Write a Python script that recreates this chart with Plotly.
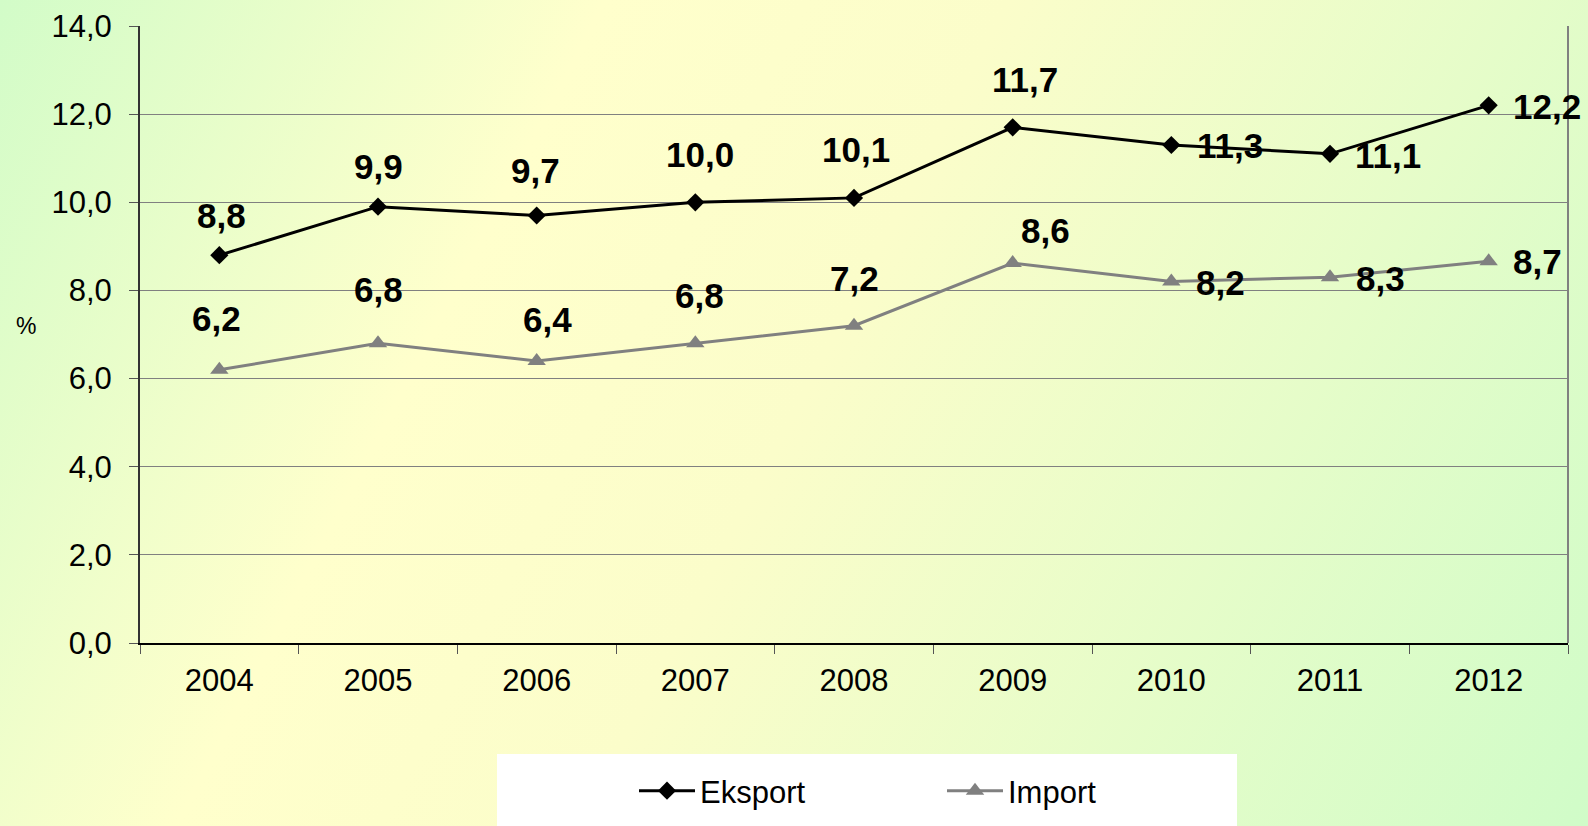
import base64
import plotly.graph_objects as go

years = ["2004", "2005", "2006", "2007", "2008", "2009", "2010", "2011", "2012"]
eksport = [8.8, 9.9, 9.7, 10.0, 10.1, 11.7, 11.3, 11.1, 12.2]
importv = [6.2, 6.8, 6.4, 6.8, 7.2, 8.62, 8.2, 8.3, 8.66]
y_ticks = [0, 2, 4, 6, 8, 10, 12, 14]

# label offsets in pixels (layout only)
eks_off = [(2, 40), (0, 40), (-1, 45), (5, 48), (2, 48), (12, 48), (59, -1), (58, -2), (58, -1)]
imp_off = [(-3, 51), (0, 54), (11, 41), (4, 48), (0, 47), (33, 33), (49, -1), (50, -1), (49, 0)]

W, H = 1588, 826
L, R, T, B = 140, 20, 26, 183
pw, ph = W - L - R, H - T - B

def px(x):
    return (x - L) / pw

def py(y):
    return (H - B - y) / ph

svg = f'''<svg xmlns="http://www.w3.org/2000/svg" width="{W}" height="{H}">
<defs><linearGradient id="g" gradientUnits="userSpaceOnUse" x1="0" y1="0" x2="{W}" y2="{H}">
<stop offset="0" stop-color="#d2fcc8"/>
<stop offset="0.30" stop-color="#ffffcc"/>
<stop offset="0.50" stop-color="#fbfdca"/>
<stop offset="1" stop-color="#d0fcc8"/>
</linearGradient></defs>
<rect width="{W}" height="{H}" fill="url(#g)"/></svg>'''
bg_src = "data:image/svg+xml;base64," + base64.b64encode(svg.encode()).decode()

FONT = "Liberation Sans, Arial, sans-serif"

fig = go.Figure()
fig.add_trace(go.Scatter(
    x=years, y=eksport, name="Eksport", mode="lines+markers",
    line=dict(color="#000000", width=3),
    marker=dict(symbol="diamond", size=14, color="#000000"),
))
fig.add_trace(go.Scatter(
    x=years, y=importv, name="Import", mode="lines+markers",
    line=dict(color="#808080", width=3),
    marker=dict(symbol="triangle-up", size=16, color="#808080"),
))

annotations = []
for series, offs in ((eksport, eks_off), (importv, imp_off)):
    for i, (v, (dx, dy)) in enumerate(zip(series, offs)):
        annotations.append(dict(
            x=i, y=v, xref="x", yref="y", text="<b>" + f"{v:.1f}".replace(".", ",") + "</b>",
            showarrow=False, xshift=dx, yshift=dy,
            font=dict(family=FONT, size=35, color="#000000"),
        ))
annotations.append(dict(
    x=px(26), y=py(326), xref="paper", yref="paper", text="%", showarrow=False,
    xanchor="center", yanchor="middle",
    font=dict(family=FONT, size=23, color="#000000"),
))

shapes = [
    dict(type="rect", xref="paper", yref="paper", x0=px(497), x1=px(1237),
         y0=py(826) - 0.02, y1=py(754), fillcolor="#ffffff", line=dict(width=0),
         layer="below"),
    dict(type="line", xref="paper", yref="paper", x0=1, x1=1, y0=0, y1=1,
         line=dict(color="#808080", width=2)),
]

fig.update_layout(
    width=W, height=H,
    margin=dict(l=L, r=R, t=T, b=B, autoexpand=False),
    paper_bgcolor="#f4fdc9",
    plot_bgcolor="rgba(0,0,0,0)",
    separators=", ",
    font=dict(family=FONT, color="#000000"),
    images=[dict(source=bg_src, xref="paper", yref="paper", x=px(0), y=py(0),
                 sizex=W / pw, sizey=H / ph, xanchor="left", yanchor="top",
                 sizing="stretch", layer="below")],
    shapes=shapes,
    annotations=annotations,
    showlegend=True,
    legend=dict(orientation="h", x=px(634), y=py(791), xanchor="left", yanchor="middle",
                bgcolor="rgba(0,0,0,0)", font=dict(family=FONT, size=31),
                entrywidth=237, entrywidthmode="pixels", itemwidth=56),
    xaxis=dict(
        type="category", tickson="boundaries", ticks="outside", ticklen=9,
        tickcolor="#555555", tickwidth=1, showgrid=False,
        showline=True, linecolor="#000000", linewidth=2,
        tickfont=dict(family=FONT, size=31), ticklabelstandoff=9,
        range=[-0.5, 8.5],
    ),
    yaxis=dict(
        range=[0, 14], tickvals=y_ticks, tickformat=".1f",
        ticks="outside", ticklen=9, tickcolor="#555555", tickwidth=1,
        showgrid=True, gridcolor="#808080", gridwidth=1,
        showline=True, linecolor="#333333", linewidth=2, zeroline=False,
        tickfont=dict(family=FONT, size=31), ticklabelstandoff=11,
    ),
)

fig.write_html("out.html", config={"displayModeBar": False},
               post_script="document.body.style.margin='0';document.body.style.overflow='hidden';")
